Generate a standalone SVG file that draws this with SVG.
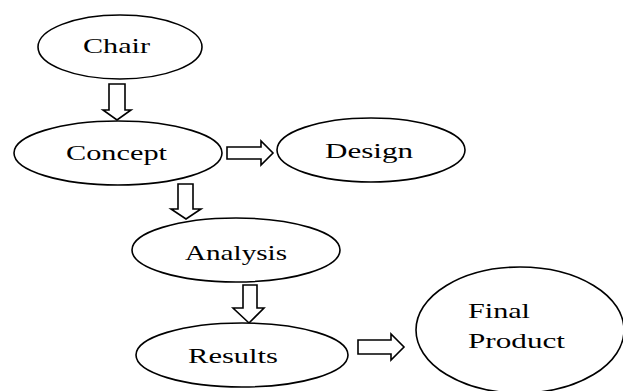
<svg xmlns="http://www.w3.org/2000/svg" width="623" height="391" viewBox="0 0 623 391">
<style>
.n{fill:#fff;stroke:#000;stroke-width:1.6}
.a{fill:#fff;stroke:#000;stroke-width:1.6;stroke-linejoin:miter}
.t{font-family:"Liberation Serif","Times New Roman",serif;font-size:22px;fill:#000}
</style>
<rect width="623" height="391" fill="#fff"/>
<g id="connectors">
<path class="a" d="M109,84 H125 V110 H131 L117,120 L103,110 H109 Z"/>
<path class="a" d="M227,147 H261 V141 L273,153 L261,165 V159 H227 Z"/>
<path class="a" d="M178,184 H193 V209 H201 L186,219 L171,209 H178 Z"/>
<path class="a" d="M243,285 H257 V308 H264 L249,323 L233,308 H243 Z"/>
<path class="a" d="M358,340 H391 V334 L404,347 L391,360 V354 H358 Z"/>
</g>
<g id="chair"><ellipse class="n" cx="120" cy="47" rx="82" ry="32"/><text class="t" x="83" y="53" textLength="67" lengthAdjust="spacingAndGlyphs">Chair</text></g>
<g id="concept"><ellipse class="n" cx="118" cy="153" rx="104" ry="32"/><text class="t" x="66" y="160" textLength="101" lengthAdjust="spacingAndGlyphs">Concept</text></g>
<g id="design"><ellipse class="n" cx="371" cy="150" rx="94" ry="32"/><text class="t" x="325" y="158" textLength="88" lengthAdjust="spacingAndGlyphs">Design</text></g>
<g id="analysis"><ellipse class="n" cx="236" cy="250" rx="104" ry="32"/><text class="t" x="185" y="260" textLength="102" lengthAdjust="spacingAndGlyphs">Analysis</text></g>
<g id="results"><ellipse class="n" cx="242" cy="355" rx="106" ry="32"/><text class="t" x="188" y="363" textLength="90" lengthAdjust="spacingAndGlyphs">Results</text></g>
<g id="final-product"><ellipse class="n" cx="520" cy="330" rx="104" ry="63"/><text class="t" x="468" y="318" textLength="62" lengthAdjust="spacingAndGlyphs">Final</text><text class="t" x="468" y="348" textLength="97" lengthAdjust="spacingAndGlyphs">Product</text></g>
</svg>
